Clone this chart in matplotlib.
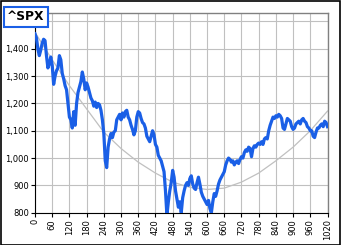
import matplotlib
matplotlib.use("Agg")
import matplotlib.pyplot as plt
from matplotlib.patches import Rectangle

# Blue price series (x = trading day index)
day = list(range(0, 1025, 5))
price = [1455, 1440, 1400, 1375, 1395, 1420, 1435, 1430, 1375, 1330, 1345, 1370, 1340,
         1270, 1300, 1320, 1330, 1375, 1360, 1310, 1290, 1265, 1250, 1200, 1150, 1140,
         1110, 1170, 1120, 1200, 1240, 1260, 1280, 1315, 1290, 1250, 1275, 1260, 1240,
         1220, 1210, 1190, 1205, 1185, 1200, 1195, 1175, 1140, 1090, 990, 965, 1040,
         1070, 1090, 1075, 1095, 1100, 1140, 1150, 1160, 1140, 1165, 1150, 1170, 1175,
         1150, 1140, 1120, 1105, 1085, 1100, 1150, 1170, 1165, 1145, 1130, 1125, 1110,
         1080, 1070, 1060, 1080, 1100, 1085, 1050, 1040, 1010, 1000, 990, 970, 950,
         880, 790, 840, 880, 910, 955, 930, 880, 850, 820, 840, 800, 855, 880, 900,
         910, 900, 925, 935, 905, 890, 885, 910, 930, 905, 875, 860, 850, 840, 830,
         845, 815, 800, 840, 870, 860, 880, 905, 920, 930, 940, 950, 975, 990, 1000,
         995, 985, 990, 975, 985, 990, 980, 995, 1005, 1000, 1020, 1030, 1025, 1040,
         1035, 1005, 1035, 1045, 1040, 1050, 1055, 1050, 1060, 1050, 1070, 1075, 1070,
         1100, 1120, 1135, 1150, 1145, 1155, 1150, 1160, 1155, 1145, 1110, 1105, 1125,
         1145, 1140, 1135, 1115, 1105, 1110, 1125, 1130, 1135, 1125, 1140, 1145, 1135,
         1130, 1115, 1110, 1100, 1100, 1080, 1075, 1095, 1110, 1110, 1120, 1125, 1115,
         1135, 1130, 1115]

# Gray trend curve
trend_x = [0, 60, 120, 180, 240, 300, 360, 420, 480, 540, 600, 660, 720, 780, 840, 900, 960, 1020]
trend_y = [1460, 1360, 1265, 1180, 1095, 1035, 985, 945, 912, 893, 885, 890, 912, 945, 990, 1040, 1100, 1172]

x_ticks = list(range(0, 1021, 60))
y_ticks = list(range(800, 1501, 100))
y_labels = [f"{v:,}" if v < 1500 else "" for v in y_ticks]

W, H = 341, 245
fig = plt.figure(figsize=(W/100, H/100), dpi=100)
fig.patch.set_facecolor("white")
ax = fig.add_axes([35/W, 1 - 212.7/H, (327.5-35)/W, (212.7-13.3)/H])

ax.plot(trend_x, trend_y, color="#c0c0c0", lw=0.9, zorder=2)
ax.plot(day[:len(price)], price, color="#1a5fe6", lw=2.3, zorder=3)

ax.set_xlim(0, 1020)
ax.set_ylim(800, 1530)
ax.set_xticks(x_ticks)
ax.set_xticklabels([str(v) for v in x_ticks], rotation=90, fontsize=6)
ax.set_yticks(y_ticks)
ax.set_yticklabels(y_labels, fontsize=6)
ax.grid(True, color="#c0c0c0", lw=0.8)
ax.set_axisbelow(True)
for s in ("top", "right"):
    ax.spines[s].set_color("#808080")
    ax.spines[s].set_linewidth(1.0)
for s in ("left", "bottom"):
    ax.spines[s].set_color("black")
    ax.spines[s].set_linewidth(0.8)
ax.tick_params(axis="both", length=3, width=0.8, pad=1.5, colors="black")

# outer frame
fig.add_artist(Rectangle((0.5/W, 0.5/H), 339.5/W, 243.5/H, transform=fig.transFigure,
                         fill=False, edgecolor="black", lw=1.2))

# title box
fig.add_artist(Rectangle((4.3/W, 1 - 26.8/H), (48.2-4.3)/W, (26.8-7)/H, transform=fig.transFigure,
                         facecolor="white", edgecolor="#1a5fe6", lw=1.5, zorder=9))
fig.text(26/W, 1 - 16.8/H, "^SPX", fontsize=8.8, fontweight="bold", va="center", ha="center",
         zorder=10)

fig.savefig("out.png", dpi=100)
